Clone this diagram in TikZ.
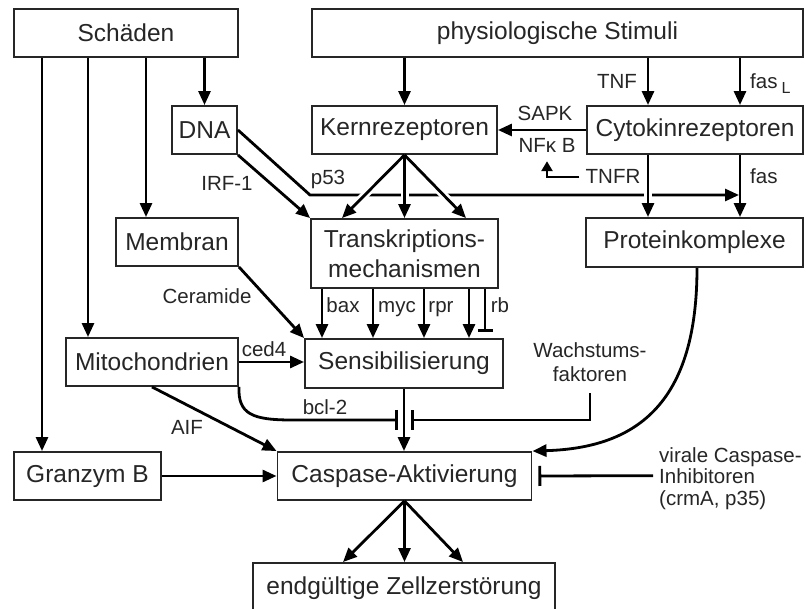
\documentclass[tikz,border=0pt]{standalone}
\usepackage{fontspec}
\setmainfont{Liberation Sans}
\usetikzlibrary{arrows.meta}
\newcommand\boxfont{\fontsize{24.5}{30}\selectfont}
\newcommand\labfont{\fontsize{20.5}{23}\selectfont}
\tikzset{
  box/.style={draw=black!85, line width=1.9pt, inner sep=0pt, font=\boxfont, text=black!85},
  lab/.style={inner sep=1pt, font=\labfont, text=black!85, anchor=base},
  arr/.style={line width=2.8pt, -{Triangle[length=14pt,width=12pt]}},
  smallarr/.style={line width=2.8pt, -{Triangle[length=10pt,width=11pt]}},
  inh/.style={line width=2.8pt, -{Bar[width=#1]}},
  inh/.default=20pt,
  over/.style={preaction={draw=white, line width=8pt, arrows=-, shorten <=10pt, shorten >=10pt}},
}
\begin{document}
\begin{tikzpicture}[x=1pt,y=-1pt]
\useasboundingbox[fill=white] (0,0) rectangle (806,609);
\clip (0,0) rectangle (806,609);

% boxes
\node[box,minimum width=224pt,minimum height=48pt] (schaeden) at (126,33) {Schäden};
\node[box,minimum width=491pt,minimum height=48pt] (stimuli) at (557.5,33) {physiologische Stimuli};
\node[box,minimum width=65pt,minimum height=48pt] (dna) at (204.5,130) {DNA};
\node[box,minimum width=185pt,minimum height=48pt] (kern) at (404.5,130) {Kernrezeptoren};
\node[box,minimum width=216pt,minimum height=48pt] (cyto) at (695,130) {Cytokinrezeptoren};
\node[box,minimum width=122pt,minimum height=48pt] (membran) at (177,242) {Membran};
\node[box,minimum width=187pt,minimum height=69pt,align=center] (trans) at (404.5,253.5) {Transkriptions-\\mechanismen};
\node[box,minimum width=217pt,minimum height=49pt] (protein) at (694.5,242.5) {Proteinkomplexe};
\node[box,minimum width=172pt,minimum height=48pt] (mito) at (152,362) {Mitochondrien};
\node[box,minimum width=198pt,minimum height=49pt] (sens) at (404,363.5) {Sensibilisierung};
\node[box,minimum width=147pt,minimum height=48pt] (granzym) at (87.5,476) {Granzym B};
\node[box,minimum width=254pt,minimum height=48pt] (caspase) at (404.5,476) {Caspase-Aktivierung};
\node[box,minimum width=302pt,minimum height=50pt] (zerst) at (404,588) {endgültige Zellzerstörung};

% labels
\node[lab] (tnf) at (617,89) {TNF};
\node[lab,anchor=base west] (fasl) at (749,89) {fas\kern4pt\raisebox{-5pt}{\fontsize{16}{16}\selectfont L}};
\node[lab] (sapk) at (545,121) {SAPK};
\node[lab] (nfkb) at (547,153) {NFκ B};
\node[lab] (tnfr) at (613,184) {TNFR};
\node[lab,anchor=base west] (fas) at (749,184) {fas};
\node[lab] (p53) at (328,185) {p53};
\node[lab] (irf) at (227,191) {IRF-1};
\node[lab] (ceramide) at (207,304) {Ceramide};
\node[lab] (ced4) at (264,357) {ced4};
\node[lab] (bax) at (343,313) {bax};
\node[lab] (myc) at (397,313) {myc};
\node[lab] (rpr) at (441,313) {rpr};
\node[lab] (rb) at (500,313) {rb};
\node[lab] (bcl) at (325,415) {bcl-2};
\node[lab] (aif) at (187,435) {AIF};
\node[lab] (wachs1) at (590,358) {Wachstums-};
\node[lab] (wachs2) at (590,382) {faktoren};
\node[lab,anchor=base west] (viral1) at (658,462) {virale Caspase-};
\node[lab,anchor=base west] (viral2) at (658,483) {Inhibitoren};
\node[lab,anchor=base west] (viral3) at (658,505) {(crmA, p35)};

% helper coordinates
\coordinate (x42) at (42,0);
\coordinate (x88) at (88,0);
\coordinate (x146) at (146,0);
\coordinate (x648) at (648,0);
\coordinate (x740) at (740,0);
\coordinate (xk1) at (342,0);
\coordinate (xk3) at (466,0);
\coordinate (xbax) at (322,0);
\coordinate (xmyc) at (373,0);
\coordinate (xrpr) at (424,0);
\coordinate (xfour) at (469,0);
\coordinate (xrb) at (485,0);
\coordinate (xz1) at (343,0);
\coordinate (xz3) at (463,0);
\coordinate (p53k) at (310,195);
\coordinate (p53end) at (739,195);
\coordinate (rbend) at (485,332);
\coordinate (bclend) at (398,420);
\coordinate (wend) at (411,420);

% from Schaeden
\draw[arr] (schaeden.south -| x42) -- (granzym.north -| x42);
\draw[arr] (schaeden.south -| x88) -- (mito.north -| x88);
\draw[arr] (schaeden.south -| x146) -- (membran.north -| x146);
\draw[arr] (schaeden.south -| dna.north) -- (dna.north);

% from Stimuli
\draw[arr] (stimuli.south -| kern.north) -- (kern.north);
\draw[arr] (stimuli.south -| x648) -- (cyto.north -| x648);
\draw[arr] (stimuli.south -| x740) -- (cyto.north -| x740);

% Cytokinrezeptoren -> Kernrezeptoren
\draw[arr] (cyto.west) -- (kern.east);
\draw[smallarr] ([xshift=-5pt]tnfr.west) -| ([yshift=-7pt]nfkb.south);

% DNA
\draw[line width=2.8pt, -{Triangle[length=14pt,width=12pt]}] (dna.east) -- (p53k) -- (p53end);
\draw[arr] (dna.south east) -- (trans.north west);

% Kern -> Trans (over p53 line)
\draw[arr,over] (kern.south) -- (trans.north -| xk1);
\draw[arr,over] (kern.south) -- (trans.north);
\draw[arr,over] (kern.south) -- (trans.north -| xk3);

% Cyto -> Protein
\draw[arr,over] (cyto.south -| x648) -- (protein.north -| x648);
\draw[arr] (cyto.south -| x740) -- (protein.north -| x740);

% Trans -> Sens
\draw[arr] (trans.south -| xbax) -- (sens.north -| xbax);
\draw[arr] (trans.south -| xmyc) -- (sens.north -| xmyc);
\draw[arr] (trans.south -| xrpr) -- (sens.north -| xrpr);
\draw[arr] (trans.south -| xfour) -- (sens.north -| xfour);
\draw[inh=15pt] (trans.south -| xrb) -- (rbend);

% Membran, Mito -> Sens
\draw[arr] (membran.south east) -- (sens.north west);
\draw[arr] (mito.east) -- (mito.east -| sens.west);

% bcl-2 and Wachstumsfaktoren
\draw[inh] (mito.south east) .. controls (238,414) and (252,420) .. (292,420) -- (bclend);
\draw[inh] ([yshift=-10pt]wachs2.south) |- (wend);

% into Caspase
\draw[arr] (sens.south) -- (sens.south |- caspase.north);
\draw[arr] (mito.south) -- (caspase.north west);
\draw[arr] (granzym.east) -- (caspase.west);
\draw[arr] ([xshift=2.5pt]protein.south) .. controls (697,400) and (640,448) .. (caspase.north east);
\draw[inh] ([xshift=-5pt]viral2.west) -- ([xshift=6pt]caspase.east);

% Caspase -> Zerstoerung
\draw[arr] (caspase.south) -- (zerst.north -| xz1);
\draw[arr] (caspase.south) -- (caspase.south |- zerst.north);
\draw[arr] (caspase.south) -- (zerst.north -| xz3);
\end{tikzpicture}
\end{document}
